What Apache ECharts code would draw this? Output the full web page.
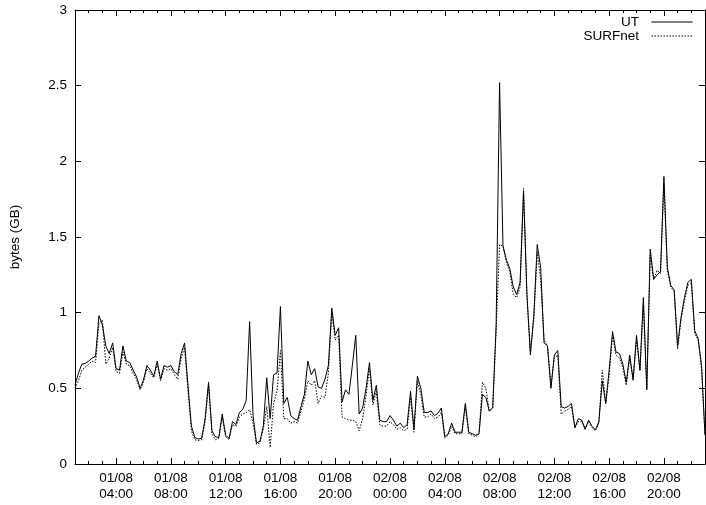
<!DOCTYPE html>
<html><head><meta charset="utf-8">
<script src="https://cdn.jsdelivr.net/npm/echarts@6/dist/echarts.min.js"></script>
<style>html,body{margin:0;padding:0;background:#fff}#c{width:706px;height:505px}</style>
</head><body><div id="c"></div>
<script>
// Time axis: 15-minute samples starting 01/08 01:00
const startDay = 1, startHour = 1, stepMinutes = 15, pointCount = 185;
const ut = [
0.52,0.60,0.66,0.665,0.68,0.70,0.71,0.98,0.92,0.78,
0.73,0.80,0.63,0.62,0.78,0.68,0.67,0.62,0.575,0.50,
0.555,0.65,0.62,0.58,0.68,0.56,0.65,0.64,0.65,0.61,
0.59,0.73,0.80,0.52,0.25,0.175,0.165,0.17,0.30,0.54,
0.22,0.18,0.175,0.33,0.19,0.17,0.28,0.26,0.34,0.36,
0.42,0.94,0.32,0.14,0.15,0.25,0.57,0.30,0.59,0.60,
1.04,0.40,0.44,0.32,0.30,0.29,0.38,0.46,0.68,0.59,
0.63,0.51,0.50,0.56,0.65,1.03,0.85,0.90,0.41,0.49,
0.46,0.65,0.85,0.33,0.37,0.50,0.67,0.42,0.52,0.29,
0.28,0.28,0.32,0.29,0.25,0.27,0.24,0.26,0.48,0.23,
0.58,0.50,0.34,0.34,0.35,0.32,0.335,0.37,0.18,0.20,
0.27,0.21,0.21,0.21,0.40,0.21,0.20,0.19,0.20,0.46,
0.44,0.35,0.37,0.92,2.52,1.44,1.35,1.29,1.17,1.12,
1.20,1.80,1.12,0.72,0.98,1.45,1.30,0.80,0.78,0.50,
0.72,0.75,0.38,0.37,0.38,0.40,0.24,0.30,0.29,0.23,
0.29,0.25,0.225,0.28,0.55,0.40,0.62,0.875,0.74,0.73,
0.66,0.54,0.72,0.56,0.85,0.62,1.10,0.49,1.42,1.22,
1.25,1.27,1.90,1.30,1.18,1.15,0.78,0.97,1.10,1.20,
1.22,0.88,0.83,0.65,0.19
];
const surfnet = [
0.50,0.55,0.62,0.64,0.66,0.68,0.67,0.93,0.95,0.66,
0.70,0.77,0.61,0.60,0.74,0.66,0.65,0.60,0.56,0.49,
0.54,0.63,0.60,0.57,0.66,0.55,0.63,0.62,0.63,0.59,
0.56,0.70,0.77,0.48,0.22,0.16,0.155,0.16,0.28,0.52,
0.20,0.16,0.17,0.31,0.18,0.16,0.26,0.25,0.31,0.33,
0.34,0.36,0.27,0.13,0.14,0.23,0.38,0.11,0.40,0.48,
0.75,0.30,0.30,0.27,0.28,0.27,0.35,0.43,0.55,0.52,
0.55,0.40,0.45,0.44,0.60,1.00,0.82,0.85,0.31,0.30,
0.29,0.29,0.28,0.22,0.30,0.45,0.63,0.39,0.48,0.26,
0.25,0.25,0.28,0.26,0.23,0.24,0.22,0.23,0.44,0.21,
0.55,0.46,0.31,0.31,0.33,0.30,0.31,0.34,0.17,0.19,
0.25,0.20,0.20,0.20,0.38,0.20,0.19,0.18,0.20,0.54,
0.50,0.35,0.37,0.88,1.45,1.44,1.33,1.27,1.12,1.10,
1.17,1.82,1.10,0.75,0.95,1.40,1.22,0.82,0.78,0.52,
0.70,0.72,0.33,0.35,0.36,0.38,0.24,0.28,0.28,0.23,
0.28,0.24,0.22,0.27,0.62,0.40,0.58,0.85,0.72,0.70,
0.64,0.52,0.70,0.55,0.82,0.62,1.05,0.50,1.38,1.22,
1.28,1.26,1.85,1.28,1.17,1.14,0.76,0.95,1.08,1.18,
1.20,0.86,0.82,0.63,0.19
];
const yMin = 0, yMax = 3, yStep = 0.5;
const majorTickMinutes = 240, minorTickMinutes = 60;
const seriesNames = ['UT', 'SURFnet'];
const yName = 'bytes (GB)';

function pad(n){ return (n < 10 ? '0' : '') + n; }
const minutesOf = [];
const categories = [];
for (let i = 0; i < pointCount; i++) {
  const m = startHour * 60 + i * stepMinutes;
  minutesOf.push(m);
  const day = startDay + Math.floor(m / 1440);
  const mm = m % 1440;
  categories.push(pad(day) + '/08\n' + pad(Math.floor(mm / 60)) + ':' + pad(mm % 60));
}
const isMajor = (idx) => minutesOf[idx] % majorTickMinutes === 0;
const isMinor = (idx) => minutesOf[idx] % minorTickMinutes === 0;

const FONT = "'Liberation Sans', Arial, Helvetica, sans-serif";
const chart = echarts.init(document.getElementById('c'), null, {renderer: 'canvas'});

function xAx(pos, major, labels) {
  return {
    type: 'category', data: categories, position: pos, boundaryGap: false,
    axisLine: {show: !major, lineStyle: {color: '#000', width: 1}},
    axisTick: {show: true, inside: true, length: major ? 6 : 3,
      interval: major ? (i) => isMajor(i) : (i) => isMinor(i),
      lineStyle: {color: '#000', width: 1}},
    axisLabel: {show: labels, interval: (i) => isMajor(i), color: '#000',
      fontFamily: FONT, fontSize: 13.5, lineHeight: 16, margin: 6},
    splitLine: {show: false}
  };
}
function yAx(pos, labels) {
  return {
    type: 'value', min: yMin, max: yMax, interval: yStep, position: pos,
    name: labels ? yName : '', nameLocation: 'middle', nameGap: 53,
    nameTextStyle: {color: '#000', fontFamily: FONT, fontSize: 13.5},
    axisLine: {show: true, lineStyle: {color: '#000', width: 1}},
    axisTick: {show: true, inside: true, length: 6, lineStyle: {color: '#000', width: 1}},
    axisLabel: {show: labels, color: '#000', fontFamily: FONT, fontSize: 13.5, margin: 8},
    splitLine: {show: false}
  };
}

chart.setOption({
  animation: false,
  backgroundColor: '#fff',
  grid: {left: 71, right: 1, top: 10, bottom: 41, containLabel: false},
  legend: {
    orient: 'vertical', right: 13, top: 15, align: 'right', padding: 0,
    itemWidth: 41, itemHeight: 14, itemGap: 0,
    itemStyle: {opacity: 0},
    lineStyle: {width: 1},
    formatter: (name) => name + '  ',
    textStyle: {color: '#000', fontFamily: FONT, fontSize: 13.5},
    data: seriesNames
  },
  xAxis: [xAx('bottom', false, true), xAx('bottom', true, false), xAx('top', false, false), xAx('top', true, false)],
  yAxis: [yAx('left', true), yAx('right', false)],
  series: [
    {name: seriesNames[0], type: 'line', data: ut, xAxisIndex: 0, yAxisIndex: 0,
     symbol: 'none', lineStyle: {color: '#000', width: 1, type: 'solid'}, itemStyle: {color: '#000'}, z: 3},
    {name: seriesNames[1], type: 'line', data: surfnet, xAxisIndex: 0, yAxisIndex: 0,
     symbol: 'none', lineStyle: {color: '#000', width: 1, type: [1.5, 1.5]}, itemStyle: {color: '#000'}, z: 2}
  ]
});
</script>
</body></html>
